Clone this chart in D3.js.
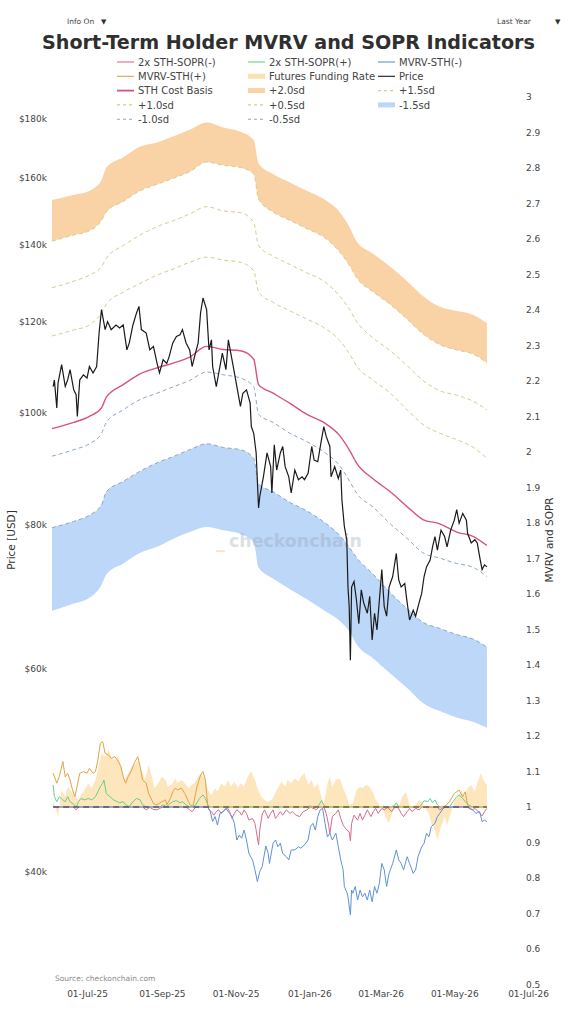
<!DOCTYPE html>
<html>
<head>
<meta charset="utf-8">
<script src="https://cdn.jsdelivr.net/npm/d3@7"></script>
<style>
  body { margin: 0; background: #fff; }
  text { font-family: "DejaVu Sans", Verdana, sans-serif; }
</style>
</head>
<body>
<svg id="chart"></svg>
<script>
// page size and plot box
const W = 577, H = 1024;
const plot = { left: 52, right: 528, top: 97, bottom: 984.5 };

// tick labels
const leftTicks = [40, 60, 80, 100, 120, 140, 160, 180];
const rightTicks = [0.5, 0.6, 0.7, 0.8, 0.9, 1, 1.1, 1.2, 1.3, 1.4, 1.5, 1.6, 1.7, 1.8, 1.9, 2, 2.1, 2.2, 2.3, 2.4, 2.5, 2.6, 2.7, 2.8, 2.9, 3];
const dateTicks = ["2025-07-01", "2025-09-01", "2025-11-01", "2026-01-01", "2026-03-01", "2026-05-01", "2026-07-01"];

// sd band levels (price, $k)
const bandDates = ["2025-06-02","2025-06-20","2025-07-03","2025-07-13","2025-07-17","2025-07-31","2025-08-14","2025-08-28","2025-09-11","2025-09-24","2025-10-08","2025-10-22","2025-11-05","2025-11-16","2025-11-20","2025-12-02","2025-12-16","2025-12-30","2026-01-13","2026-01-26","2026-02-04","2026-02-09","2026-02-23","2026-03-09","2026-03-23","2026-04-05","2026-04-19","2026-05-03","2026-05-17","2026-05-28"];
const sdPlus20 = [153.0,154.6,155.9,159.2,163.3,166.7,170.3,171.7,173.9,176.1,178.7,176.9,175.4,172.5,164.6,161.2,158.5,155.9,153.3,149.4,144.5,140.9,137.4,133.9,130.1,126.3,123.6,122.6,121.6,119.6];
const sdPlus15 = [140.9,142.7,143.9,146.9,149.4,152.6,155.9,157.9,159.9,161.9,165.1,164.0,163.3,161.2,153.3,149.4,146.9,144.5,142.1,138.0,133.9,131.1,127.3,124.2,120.6,117.1,114.6,113.4,112.4,110.5];
const sdPlus10 = [128.4,130.1,131.7,133.9,136.2,139.7,142.7,145.1,146.9,148.8,151.0,149.7,149.2,146.3,139.7,136.8,134.5,132.3,130.1,126.3,122.6,120.1,116.1,113.2,109.9,106.7,104.5,103.6,102.3,100.6];
const sdPlus05 = [116.6,118.0,119.2,122.1,124.2,127.3,129.5,131.7,133.4,135.1,136.5,135.7,135.1,132.8,127.3,124.7,122.6,120.6,118.6,115.6,112.2,109.9,106.7,104.0,100.6,97.7,96.0,94.8,93.3,91.3];
const costBasis = [96.9,98.1,99.3,101.0,103.2,105.8,108.1,109.4,110.5,111.8,114.2,113.5,113.2,111.3,105.8,104.0,101.9,99.7,98.1,95.6,92.5,90.5,87.6,85.4,82.9,80.8,80.1,78.8,78.1,76.7];
const sdMinus05 = [91.7,92.9,94.0,96.0,98.1,100.6,102.7,104.0,105.4,106.7,108.5,107.9,107.2,105.4,99.7,98.1,96.0,94.4,92.5,90.0,87.0,85.2,82.8,80.1,77.8,75.6,74.8,74.0,73.4,72.1];
const sdMinus10 = [79.5,80.5,81.5,83.2,85.4,87.2,89.0,90.5,91.7,92.9,94.0,93.3,92.9,91.3,86.8,85.4,83.6,82.2,80.4,78.3,76.2,74.9,72.4,69.8,67.6,65.8,65.0,64.2,63.6,62.6];
const sdMinus15 = [67.3,68.3,69.1,70.9,72.4,74.0,75.6,76.5,77.8,78.8,79.6,79.1,78.5,77.2,73.4,71.8,70.3,68.9,67.4,66.0,64.4,63.0,61.2,59.4,57.7,56.0,55.1,54.4,53.9,53.3];

// bitcoin price ($k)
const price = [["2025-06-03",105.4],["2025-06-04",106.8],["2025-06-06",101.0],["2025-06-07",106.1],["2025-06-10",110.1],["2025-06-13",105.4],["2025-06-15",106.8],["2025-06-17",109.0],["2025-06-20",104.7],["2025-06-22",103.7],["2025-06-23",99.3],["2025-06-25",106.8],["2025-06-28",107.9],["2025-07-01",107.2],["2025-07-03",109.7],["2025-07-06",108.3],["2025-07-09",109.7],["2025-07-11",117.3],["2025-07-13",122.9],["2025-07-16",118.1],["2025-07-18",120.0],["2025-07-21",118.1],["2025-07-25",119.2],["2025-07-28",118.5],["2025-07-31",119.2],["2025-08-03",113.4],["2025-08-05",115.0],["2025-08-08",119.2],["2025-08-11",122.1],["2025-08-13",123.7],["2025-08-15",118.1],["2025-08-19",117.3],["2025-08-22",113.4],["2025-08-25",114.2],["2025-08-28",110.4],["2025-08-30",108.3],["2025-09-02",111.2],["2025-09-05",110.4],["2025-09-07",111.9],["2025-09-10",115.0],["2025-09-13",116.5],["2025-09-16",116.9],["2025-09-18",118.1],["2025-09-21",115.0],["2025-09-24",113.4],["2025-09-26",109.7],["2025-09-28",111.9],["2025-10-01",115.0],["2025-10-03",122.1],["2025-10-05",125.8],["2025-10-08",122.9],["2025-10-10",113.4],["2025-10-12",115.7],["2025-10-13",109.7],["2025-10-16",105.4],["2025-10-19",109.7],["2025-10-21",112.7],["2025-10-24",109.0],["2025-10-26",115.7],["2025-10-28",112.7],["2025-10-31",108.3],["2025-11-03",104.0],["2025-11-05",101.3],["2025-11-07",104.0],["2025-11-10",104.7],["2025-11-13",102.0],["2025-11-14",97.3],["2025-11-16",96.0],["2025-11-18",92.3],["2025-11-20",82.7],["2025-11-21",84.6],["2025-11-24",88.0],["2025-11-27",92.3],["2025-11-30",89.8],["2025-12-01",85.2],["2025-12-03",93.8],["2025-12-05",89.2],["2025-12-08",92.3],["2025-12-10",93.5],["2025-12-12",89.8],["2025-12-15",88.0],["2025-12-17",85.2],["2025-12-20",89.2],["2025-12-23",87.5],["2025-12-26",88.0],["2025-12-28",87.5],["2025-12-31",88.6],["2026-01-03",93.5],["2026-01-05",91.0],["2026-01-08",90.7],["2026-01-11",94.7],["2026-01-13",97.3],["2026-01-15",95.4],["2026-01-18",93.5],["2026-01-19",88.0],["2026-01-22",89.8],["2026-01-25",87.7],["2026-01-27",89.2],["2026-01-28",84.0],["2026-01-30",79.7],["2026-02-01",77.6],["2026-02-02",70.6],["2026-02-03",67.9],["2026-02-04",61.0],["2026-02-05",70.6],["2026-02-07",71.4],["2026-02-09",68.8],["2026-02-11",65.6],["2026-02-13",70.2],["2026-02-15",68.4],["2026-02-18",67.0],["2026-02-20",69.3],["2026-02-22",63.5],["2026-02-24",67.0],["2026-02-26",64.8],["2026-02-28",68.8],["2026-03-02",73.1],["2026-03-04",67.9],["2026-03-06",66.6],["2026-03-08",70.6],["2026-03-11",72.1],["2026-03-14",75.5],["2026-03-16",71.6],["2026-03-18",70.6],["2026-03-21",71.1],["2026-03-23",68.4],["2026-03-25",66.1],["2026-03-28",67.4],["2026-03-30",66.6],["2026-04-01",67.9],["2026-04-04",69.7],["2026-04-06",72.1],["2026-04-08",73.5],["2026-04-11",74.5],["2026-04-13",76.5],["2026-04-15",78.1],["2026-04-17",76.0],["2026-04-20",79.1],["2026-04-23",78.1],["2026-04-25",76.5],["2026-04-28",79.1],["2026-05-01",80.7],["2026-05-03",82.4],["2026-05-05",80.2],["2026-05-08",81.8],["2026-05-11",80.7],["2026-05-12",78.6],["2026-05-15",77.1],["2026-05-18",77.6],["2026-05-20",77.1],["2026-05-22",75.0],["2026-05-24",73.1],["2026-05-26",73.8],["2026-05-28",73.5]];

// STH MVRV (right axis)
const mvrvSth = [["2025-06-03",1.095],["2025-06-06",1.067],["2025-06-08",1.085],["2025-06-11",1.128],["2025-06-13",1.085],["2025-06-15",1.095],["2025-06-17",1.076],["2025-06-19",1.048],["2025-06-21",1.029],["2025-06-23",1.062],["2025-06-25",1.095],["2025-06-28",1.100],["2025-07-01",1.095],["2025-07-03",1.109],["2025-07-06",1.095],["2025-07-08",1.100],["2025-07-10",1.132],["2025-07-12",1.179],["2025-07-14",1.184],["2025-07-16",1.151],["2025-07-19",1.146],["2025-07-21",1.137],["2025-07-24",1.142],["2025-07-27",1.128],["2025-07-29",1.114],["2025-07-31",1.085],["2025-08-02",1.067],["2025-08-04",1.085],["2025-08-07",1.104],["2025-08-09",1.123],["2025-08-12",1.142],["2025-08-14",1.114],["2025-08-16",1.076],["2025-08-19",1.067],["2025-08-21",1.038],["2025-08-23",1.024],["2025-08-25",1.010],["2025-08-27",1.006],["2025-08-29",1.008],["2025-09-01",1.015],["2025-09-04",1.020],["2025-09-05",1.006],["2025-09-08",1.024],["2025-09-10",1.043],["2025-09-12",1.053],["2025-09-14",1.048],["2025-09-17",1.053],["2025-09-20",1.038],["2025-09-23",1.015],["2025-09-25",1.003],["2025-09-27",1.006],["2025-09-30",1.057],["2025-10-03",1.090],["2025-10-05",1.100],["2025-10-07",1.076],["2025-10-08",1.038],["2025-10-09",1.003],["2025-10-11",0.987],["2025-10-13",0.959],["2025-10-15",0.973],["2025-10-17",0.949],["2025-10-19",0.982],["2025-10-22",0.987],["2025-10-24",0.996],["2025-10-27",0.982],["2025-10-29",0.973],["2025-10-31",0.954],["2025-11-02",0.907],["2025-11-04",0.921],["2025-11-06",0.912],["2025-11-08",0.935],["2025-11-10",0.907],["2025-11-12",0.869],["2025-11-15",0.851],["2025-11-17",0.823],["2025-11-19",0.790],["2025-11-21",0.818],["2025-11-23",0.832],["2025-11-26",0.890],["2025-11-28",0.869],["2025-11-29",0.841],["2025-12-02",0.898],["2025-12-04",0.907],["2025-12-06",0.888],["2025-12-08",0.898],["2025-12-10",0.869],["2025-12-13",0.860],["2025-12-15",0.851],["2025-12-17",0.879],["2025-12-20",0.879],["2025-12-23",0.888],["2025-12-25",0.884],["2025-12-28",0.893],["2025-12-31",0.907],["2026-01-02",0.945],["2026-01-04",0.954],["2026-01-06",0.935],["2026-01-08",0.973],["2026-01-10",0.992],["2026-01-12",0.996],["2026-01-14",0.954],["2026-01-16",0.916],["2026-01-18",0.926],["2026-01-20",0.907],["2026-01-23",0.926],["2026-01-25",0.888],["2026-01-27",0.851],["2026-01-29",0.823],["2026-01-30",0.776],["2026-02-01",0.760],["2026-02-02",0.747],["2026-02-04",0.696],["2026-02-05",0.766],["2026-02-06",0.757],["2026-02-08",0.776],["2026-02-10",0.738],["2026-02-12",0.766],["2026-02-14",0.747],["2026-02-16",0.757],["2026-02-18",0.738],["2026-02-20",0.766],["2026-02-22",0.733],["2026-02-24",0.776],["2026-02-26",0.757],["2026-02-28",0.785],["2026-03-02",0.841],["2026-03-04",0.823],["2026-03-06",0.776],["2026-03-08",0.813],["2026-03-11",0.841],["2026-03-14",0.879],["2026-03-16",0.851],["2026-03-18",0.841],["2026-03-20",0.823],["2026-03-23",0.860],["2026-03-25",0.841],["2026-03-28",0.813],["2026-03-30",0.823],["2026-04-01",0.860],["2026-04-04",0.888],["2026-04-06",0.898],["2026-04-08",0.926],["2026-04-10",0.916],["2026-04-12",0.945],["2026-04-15",0.954],["2026-04-17",0.973],["2026-04-19",0.982],["2026-04-21",0.992],["2026-04-23",1.001],["2026-04-27",1.015],["2026-05-01",1.038],["2026-05-05",1.048],["2026-05-08",1.029],["2026-05-10",1.043],["2026-05-12",1.006],["2026-05-13",0.996],["2026-05-16",0.992],["2026-05-19",0.982],["2026-05-22",0.987],["2026-05-24",0.959],["2026-05-26",0.963],["2026-05-28",0.959]];

// 2x STH SOPR (right axis)
const sopr2x = [["2025-06-03",1.062],["2025-06-04",1.029],["2025-06-06",1.015],["2025-06-08",1.029],["2025-06-11",1.020],["2025-06-13",1.015],["2025-06-15",1.029],["2025-06-17",1.015],["2025-06-20",1.008],["2025-06-22",0.992],["2025-06-24",1.015],["2025-06-26",1.024],["2025-06-29",1.020],["2025-07-02",1.024],["2025-07-05",1.020],["2025-07-08",1.029],["2025-07-10",1.043],["2025-07-12",1.057],["2025-07-14",1.067],["2025-07-15",1.076],["2025-07-17",1.038],["2025-07-20",1.029],["2025-07-23",1.020],["2025-07-26",1.015],["2025-07-28",1.012],["2025-07-31",1.015],["2025-08-02",1.006],["2025-08-05",1.001],["2025-08-08",1.015],["2025-08-11",1.024],["2025-08-14",1.020],["2025-08-16",1.006],["2025-08-19",0.992],["2025-08-22",0.999],["2025-08-25",0.993],["2025-08-28",0.992],["2025-08-30",0.996],["2025-09-02",1.006],["2025-09-05",1.001],["2025-09-07",1.008],["2025-09-10",1.015],["2025-09-13",1.018],["2025-09-16",1.012],["2025-09-18",1.015],["2025-09-21",1.006],["2025-09-24",0.992],["2025-09-26",0.987],["2025-09-29",1.006],["2025-10-02",1.024],["2025-10-05",1.034],["2025-10-07",1.024],["2025-10-09",1.006],["2025-10-10",0.992],["2025-10-12",0.987],["2025-10-14",0.977],["2025-10-16",0.987],["2025-10-18",0.992],["2025-10-20",0.982],["2025-10-23",0.992],["2025-10-25",0.999],["2025-10-27",0.987],["2025-10-29",0.968],["2025-10-31",0.982],["2025-11-02",0.992],["2025-11-04",0.987],["2025-11-06",0.977],["2025-11-08",0.992],["2025-11-10",0.982],["2025-11-12",0.963],["2025-11-15",0.968],["2025-11-17",0.954],["2025-11-18",0.935],["2025-11-20",0.893],["2025-11-21",0.935],["2025-11-23",0.980],["2025-11-25",0.992],["2025-11-28",0.968],["2025-11-30",0.982],["2025-12-02",0.992],["2025-12-04",0.968],["2025-12-06",0.977],["2025-12-08",0.987],["2025-12-10",0.977],["2025-12-13",0.992],["2025-12-16",0.982],["2025-12-18",0.987],["2025-12-21",0.977],["2025-12-24",0.973],["2025-12-27",0.987],["2025-12-30",0.992],["2026-01-02",1.003],["2026-01-04",0.996],["2026-01-07",0.993],["2026-01-09",1.006],["2026-01-11",1.018],["2026-01-13",1.006],["2026-01-15",0.982],["2026-01-17",0.949],["2026-01-18",0.925],["2026-01-20",0.973],["2026-01-23",0.982],["2026-01-25",0.992],["2026-01-27",0.968],["2026-01-29",0.949],["2026-02-01",0.935],["2026-02-03",0.930],["2026-02-04",0.905],["2026-02-05",0.954],["2026-02-07",0.977],["2026-02-10",0.963],["2026-02-12",0.982],["2026-02-14",0.963],["2026-02-16",0.977],["2026-02-18",0.992],["2026-02-21",0.973],["2026-02-23",0.987],["2026-02-25",0.996],["2026-02-27",0.982],["2026-03-02",0.996],["2026-03-04",0.992],["2026-03-07",0.999],["2026-03-10",0.987],["2026-03-13",1.006],["2026-03-14",1.012],["2026-03-16",0.996],["2026-03-18",0.982],["2026-03-20",0.973],["2026-03-23",0.987],["2026-03-25",0.996],["2026-03-27",0.987],["2026-03-30",0.996],["2026-04-02",0.992],["2026-04-04",1.008],["2026-04-06",1.018],["2026-04-09",1.015],["2026-04-11",1.024],["2026-04-13",1.012],["2026-04-15",1.020],["2026-04-17",1.006],["2026-04-19",0.992],["2026-04-21",0.996],["2026-04-24",1.003],["2026-04-27",0.999],["2026-04-30",1.015],["2026-05-03",1.029],["2026-05-05",1.034],["2026-05-08",1.024],["2026-05-10",1.015],["2026-05-13",1.006],["2026-05-16",0.992],["2026-05-18",0.996],["2026-05-21",0.987],["2026-05-24",0.975],["2026-05-26",0.987],["2026-05-28",0.996]];

// futures funding rate, on the same axis around 1
const funding = [["2025-06-03",1.015],["2025-06-06",0.987],["2025-06-07",0.973],["2025-06-10",1.048],["2025-06-13",1.029],["2025-06-15",1.057],["2025-06-18",1.043],["2025-06-21",1.029],["2025-06-24",1.020],["2025-06-26",1.034],["2025-06-29",1.048],["2025-07-02",1.067],["2025-07-05",1.053],["2025-07-08",1.076],["2025-07-10",1.104],["2025-07-13",1.151],["2025-07-16",1.142],["2025-07-19",1.161],["2025-07-21",1.137],["2025-07-24",1.132],["2025-07-27",1.142],["2025-07-30",1.104],["2025-08-01",1.076],["2025-08-04",1.095],["2025-08-07",1.114],["2025-08-09",1.118],["2025-08-12",1.132],["2025-08-15",1.104],["2025-08-18",1.076],["2025-08-21",1.118],["2025-08-23",1.095],["2025-08-26",1.053],["2025-08-29",1.067],["2025-09-01",1.085],["2025-09-04",1.076],["2025-09-06",1.057],["2025-09-09",1.062],["2025-09-12",1.081],["2025-09-14",1.067],["2025-09-17",1.076],["2025-09-20",1.067],["2025-09-23",1.053],["2025-09-25",1.062],["2025-09-28",1.067],["2025-10-01",1.085],["2025-10-04",1.095],["2025-10-07",1.076],["2025-10-09",1.048],["2025-10-12",1.034],["2025-10-15",1.053],["2025-10-17",1.043],["2025-10-20",1.067],["2025-10-23",1.057],["2025-10-26",1.076],["2025-10-28",1.057],["2025-10-31",1.071],["2025-11-03",1.053],["2025-11-05",1.067],["2025-11-08",1.057],["2025-11-11",1.085],["2025-11-14",1.100],["2025-11-17",1.076],["2025-11-19",1.053],["2025-11-22",1.030],["2025-11-27",1.015],["2025-12-01",1.020],["2025-12-05",1.048],["2025-12-09",1.071],["2025-12-12",1.057],["2025-12-14",1.076],["2025-12-17",1.067],["2025-12-20",1.081],["2025-12-23",1.071],["2025-12-25",1.085],["2025-12-28",1.095],["2025-12-31",1.062],["2026-01-03",1.076],["2026-01-05",1.053],["2026-01-08",1.067],["2026-01-11",1.029],["2026-01-13",1.006],["2026-01-16",1.067],["2026-01-18",1.085],["2026-01-20",1.057],["2026-01-23",1.076],["2026-01-26",1.081],["2026-01-29",1.053],["2026-02-01",1.029],["2026-02-03",1.006],["2026-02-06",1.010],["2026-02-09",1.048],["2026-02-12",1.057],["2026-02-14",1.053],["2026-02-17",1.062],["2026-02-20",1.057],["2026-02-23",1.038],["2026-02-25",1.020],["2026-02-28",1.006],["2026-03-03",0.996],["2026-03-05",0.973],["2026-03-08",0.954],["2026-03-11",0.987],["2026-03-14",1.006],["2026-03-16",1.001],["2026-03-19",1.029],["2026-03-22",1.043],["2026-03-24",1.015],["2026-03-27",0.996],["2026-03-30",1.006],["2026-04-02",1.020],["2026-04-04",1.015],["2026-04-07",0.996],["2026-04-10",0.982],["2026-04-12",0.954],["2026-04-15",0.935],["2026-04-17",0.907],["2026-04-20",0.945],["2026-04-23",0.973],["2026-04-25",0.949],["2026-04-28",0.982],["2026-05-01",1.015],["2026-05-04",1.029],["2026-05-07",1.048],["2026-05-09",1.029],["2026-05-12",1.053],["2026-05-15",1.062],["2026-05-18",1.043],["2026-05-20",1.067],["2026-05-23",1.095],["2026-05-25",1.076],["2026-05-28",1.062]];

// legend entries, in plotly order (row by row)
const legendNames = ["2x STH-SOPR(-)", "2x STH-SOPR(+)", "MVRV-STH(-)", "MVRV-STH(+)", "Futures Funding Rate", "Price", "STH Cost Basis", "+2.0sd", "+1.5sd", "+1.0sd", "+0.5sd", "-1.5sd", "-1.0sd", "-0.5sd"];

// styles for each series
const style = {
    "2x STH-SOPR(-)": { color: "#dc6a8b", kind: "line" },
    "2x STH-SOPR(+)": { color: "#66cf8a", kind: "line" },
    "MVRV-STH(-)": { color: "#5d93d6", kind: "line" },
    "MVRV-STH(+)": { color: "#dfa546", kind: "line" },
    "Futures Funding Rate": { color: "#fde0b0", kind: "band" },
    "Price": { color: "#1a1a1a", kind: "line" },
    "STH Cost Basis": { color: "#d9527a", kind: "thick" },
    "+2.0sd": { color: "#f9d3a6", kind: "band" },
    "+1.5sd": { color: "#d8cb8e", kind: "dash" },
    "+1.0sd": { color: "#d8cb8e", kind: "dash" },
    "+0.5sd": { color: "#d8cb8e", kind: "dash" },
    "-1.5sd": { color: "#bcd7f8", kind: "band" },
    "-1.0sd": { color: "#8fa6c2", kind: "dash" },
    "-0.5sd": { color: "#8fa6c2", kind: "dash" }
};

const parse = d3.timeParse("%Y-%m-%d");

const svg = d3.select("#chart")
    .attr("width", W)
    .attr("height", H);

svg.append("rect").attr("width", W).attr("height", H).attr("fill", "#fff");

// scales
const x = d3.scaleTime()
    .domain([parse("2025-07-01"), parse("2026-07-01")])
    .range([87, 528]);
const yL = d3.scaleLog().domain([31.9, 188]).range([plot.bottom, plot.top]);
const yR = d3.scaleLinear().domain([0.5, 3]).range([plot.bottom, plot.top]);

// rows for bands
const bands = bandDates.map((d, i) => ({
    date: parse(d),
    p20: sdPlus20[i], p15: sdPlus15[i], p10: sdPlus10[i], p05: sdPlus05[i],
    cb: costBasis[i],
    m05: sdMinus05[i], m10: sdMinus10[i], m15: sdMinus15[i]
}));

const pairs = arr => arr.map(([d, v]) => ({ date: parse(d), v: v }));
const priceData = pairs(price);
const mvrvData = pairs(mvrvSth);
const soprData = pairs(sopr2x);
const fundData = pairs(funding);

const chart = svg.append("g");

// shaded sd bands
const bandArea = (lo, hi) => d3.area()
    .curve(d3.curveMonotoneX)
    .x(d => x(d.date))
    .y0(d => yL(d[lo]))
    .y1(d => yL(d[hi]));

chart.append("path").datum(bands)
    .attr("d", bandArea("p15", "p20"))
    .attr("fill", style["+2.0sd"].color);
chart.append("path").datum(bands)
    .attr("d", bandArea("m15", "m10"))
    .attr("fill", style["-1.5sd"].color);

// watermark, semi transparent over the bands
chart.append("text")
    .attr("x", 216).attr("y", 548)
    .attr("font-size", 18).attr("font-weight", "bold")
    .attr("fill", "#f3b47a").attr("opacity", 0.35)
    .text("_");
const mark = chart.append("text")
    .attr("x", 229).attr("y", 547)
    .attr("font-size", 18).attr("font-weight", "bold")
    .attr("fill", "#8f9aab").attr("opacity", 0.3)
    .text("checkonchain");
mark.attr("font-size", 18 * 133 / mark.node().getComputedTextLength());

// funding rate shading around 1
chart.append("path").datum(fundData)
    .attr("d", d3.area().x(d => x(d.date)).y0(yR(1)).y1(d => yR(d.v)))
    .attr("fill", style["Futures Funding Rate"].color)
    .attr("opacity", 0.85);

// dashed sd lines
const bandLine = key => d3.line()
    .curve(d3.curveMonotoneX)
    .x(d => x(d.date))
    .y(d => yL(d[key]));

[["p15", "+1.5sd"], ["p10", "+1.0sd"], ["p05", "+0.5sd"], ["m05", "-0.5sd"], ["m10", "-1.0sd"]].forEach(([key, name]) => {
    chart.append("path").datum(bands)
        .attr("d", bandLine(key))
        .attr("fill", "none")
        .attr("stroke", style[name].color)
        .attr("stroke-width", 1)
        .attr("stroke-dasharray", "4,3");
});

// cost basis
chart.append("path").datum(bands)
    .attr("d", bandLine("cb"))
    .attr("fill", "none")
    .attr("stroke", style["STH Cost Basis"].color)
    .attr("stroke-width", 1.4);

// oscillators, split above / below 1
const oscLine = d3.line().x(d => x(d.date)).y(d => yR(d.v));
const clip = (data, fn) => data.map(d => ({ date: d.date, v: fn(d.v, 1) }));

[[soprData, Math.min, "2x STH-SOPR(-)"],
 [soprData, Math.max, "2x STH-SOPR(+)"],
 [mvrvData, Math.min, "MVRV-STH(-)"],
 [mvrvData, Math.max, "MVRV-STH(+)"]].forEach(([data, fn, name]) => {
    chart.append("path").datum(clip(data, fn))
        .attr("d", oscLine)
        .attr("fill", "none")
        .attr("stroke", style[name].color)
        .attr("stroke-width", 1);
});

// dashed line at 1
chart.append("line")
    .attr("x1", x(priceData[0].date)).attr("x2", x(priceData[priceData.length - 1].date))
    .attr("y1", yR(1)).attr("y2", yR(1))
    .attr("stroke", "#333")
    .attr("stroke-width", 1.2)
    .attr("stroke-dasharray", "6,4");

// price
chart.append("path").datum(priceData)
    .attr("d", d3.line().x(d => x(d.date)).y(d => yL(d.v)))
    .attr("fill", "none")
    .attr("stroke", style["Price"].color)
    .attr("stroke-width", 1.2);

// axes
function styleAxis(g) {
    g.select(".domain").remove();
    g.selectAll("text")
        .attr("font-family", "DejaVu Sans, Verdana, sans-serif")
        .attr("font-size", 9)
        .attr("fill", "#444");
}

svg.append("g")
    .attr("transform", "translate(50,0)")
    .call(d3.axisLeft(yL).tickValues(leftTicks).tickSize(0).tickPadding(3).tickFormat(d => `$${d}k`))
    .call(styleAxis);

svg.append("g")
    .attr("transform", "translate(523,0)")
    .call(d3.axisRight(yR).tickValues(rightTicks).tickSize(0).tickPadding(3).tickFormat(d => String(+d.toFixed(1))))
    .call(styleAxis);

svg.append("g")
    .attr("transform", "translate(0,987)")
    .call(d3.axisBottom(x).tickValues(dateTicks.map(parse)).tickSize(0).tickPadding(4).tickFormat(d3.timeFormat("%d-%b-%y")))
    .call(styleAxis);

// axis titles
svg.append("text")
    .attr("transform", "translate(15,540) rotate(-90)")
    .attr("text-anchor", "middle")
    .attr("font-size", 10.5)
    .attr("fill", "#333")
    .text("Price [USD]");

svg.append("text")
    .attr("transform", "translate(553,540) rotate(-90)")
    .attr("text-anchor", "middle")
    .attr("font-size", 10.5)
    .attr("fill", "#333")
    .text("MVRV and SOPR");

// title, sized to the reference width
const title = svg.append("text")
    .attr("x", W / 2).attr("y", 49)
    .attr("text-anchor", "middle")
    .attr("font-weight", "bold")
    .attr("font-size", 20)
    .attr("fill", "#2f2f2f")
    .text("Short-Term Holder MVRV and SOPR Indicators");
const tw = title.node().getComputedTextLength();
title.attr("font-size", 20 * 493 / tw);

// dropdown labels
svg.append("text").attr("x", 67).attr("y", 24).attr("font-size", 7.5).attr("fill", "#444").text("Info On");
svg.append("text").attr("x", 101).attr("y", 24).attr("font-size", 7).attr("fill", "#333").text("▼");
svg.append("text").attr("x", 497).attr("y", 24).attr("font-size", 7.5).attr("fill", "#444").text("Last Year");
svg.append("text").attr("x", 555).attr("y", 24).attr("font-size", 7).attr("fill", "#333").text("▼");

// source note
svg.append("text")
    .attr("x", 55).attr("y", 981)
    .attr("font-size", 7.5)
    .attr("fill", "#8a8a8a")
    .text("Source: checkonchain.com");

// legend
const legendCols = [117, 248, 378];
const legend = svg.append("g").attr("class", "legend");
legendNames.forEach((name, i) => {
    const cx = legendCols[i % 3];
    const cy = 62 + Math.floor(i / 3) * 14.3;
    const s = style[name];
    const item = legend.append("g").attr("transform", `translate(${cx},${cy})`);
    item.append("line")
        .attr("x1", 0).attr("x2", 17)
        .attr("stroke", s.color)
        .attr("stroke-width", s.kind === "band" ? 5 : (s.kind === "thick" ? 1.8 : 1.1))
        .attr("stroke-dasharray", s.kind === "dash" ? "3,3" : null);
    item.append("text")
        .attr("x", 21).attr("y", 3.6)
        .attr("font-size", 10)
        .attr("fill", "#444")
        .text(name);
});
</script>
</body>
</html>
